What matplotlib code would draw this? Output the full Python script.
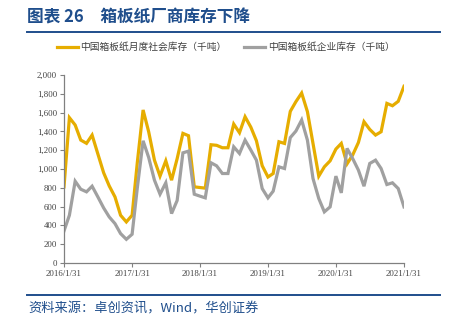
import numpy as np
import pandas as pd
import matplotlib
matplotlib.use('Agg')
from matplotlib import pyplot as plt
import matplotlib.dates as mdates
from matplotlib.ticker import FuncFormatter

# 数据（2016/1 ~ 2021/1，月度，千吨）
months = pd.date_range('2016-01-31', periods=61, freq='ME')
social_stock = [810, 1546, 1468, 1308, 1273, 1361, 1160, 960, 820, 703, 508, 437,
                508, 1070, 1628, 1396, 1094, 924, 1087, 881, 1110, 1379, 1354, 810,
                803, 796, 1258, 1252, 1226, 1226, 1478, 1386, 1556, 1445, 1300, 1035,
                915, 952, 1290, 1272, 1613, 1716, 1808, 1610, 1272, 924, 1023, 1087,
                1212, 1272, 1055, 1148, 1282, 1503, 1421, 1361, 1396, 1698, 1673, 1720,
                1880]
company_stock = [341, 508, 870, 785, 757, 817, 703, 586, 490, 419, 313, 252,
                 306, 800, 1300, 1123, 881, 732, 853, 526, 665, 1172, 1190, 732,
                 711, 693, 1066, 1034, 952, 952, 1236, 1165, 1307, 1201, 1094, 792,
                 693, 764, 1023, 1005, 1334, 1403, 1521, 1307, 899, 686, 544, 597,
                 924, 746, 1219, 1112, 988, 817, 1059, 1094, 1005, 835, 853, 792,
                 597]
label_social = '中国箱板纸月度社会库存（千吨）'
label_company = '中国箱板纸企业库存（千吨）'
title = '图表 26　箱板纸厂商库存下降'
source = '资料来源：卓创资讯，Wind，华创证券'

yellow = '#E6AD00'
gray = '#A0A0A0'
navy = '#1F4E8C'

plt.rcParams['font.family'] = ['Noto Sans CJK SC', 'DejaVu Sans']

fig = plt.figure(figsize=(4.6, 3.25), dpi=100)
ax = fig.add_axes([64/460, 62/325, 340/460, 188/325])

ax.plot(months, social_stock, color=yellow, lw=2.3, solid_joinstyle='miter')
ax.plot(months, company_stock, color=gray, lw=2.3, solid_joinstyle='miter')

ax.set_xlim(months[0], months[-1])
ax.set_ylim(0, 2000)
ax.set_yticks(np.arange(0, 2001, 200))
ax.yaxis.set_major_formatter(FuncFormatter(lambda v, p: '{:,}'.format(int(v))))
xt = months[::12]
ax.set_xticks(xt)
ax.set_xticklabels(['{}/1/31'.format(d.year) for d in xt])

for s in ['top', 'right']:
    ax.spines[s].set_visible(False)
for s in ['left', 'bottom']:
    ax.spines[s].set_color('#808080')
    ax.spines[s].set_linewidth(0.9)
ax.tick_params(axis='both', colors='#808080', length=3, width=0.8,
               labelsize=6.3, labelcolor='#404040', pad=2)
for lab in ax.get_xticklabels() + ax.get_yticklabels():
    lab.set_fontfamily('Liberation Serif')

# 标题与横线
fig.text(27/460, 1 - 18/325, title, fontsize=12, fontweight='bold',
         color=navy, va='center', ha='left')
fig.add_artist(plt.Line2D([27/460, 440/460], [1 - 32/325, 1 - 32/325],
                          color=navy, lw=1.4))

# 图例
ly = 1 - 47/325
fig.add_artist(plt.Line2D([57/460, 78/460], [ly, ly], color=yellow, lw=2.3))
fig.text(80/460, ly, label_social, fontsize=7, color='#404040', va='center')
fig.add_artist(plt.Line2D([244/460, 265/460], [ly, ly], color=gray, lw=2.3))
fig.text(268/460, ly, label_company, fontsize=7, color='#404040', va='center')

# 资料来源
fig.add_artist(plt.Line2D([27/460, 440/460], [1 - 295/325, 1 - 295/325],
                          color=navy, lw=1.4))
fig.text(28/460, 1 - 309/325, source, fontsize=9.5, color=navy,
         va='center', ha='left', style='italic')

fig.savefig('out.png', dpi=100)
plt.close()
